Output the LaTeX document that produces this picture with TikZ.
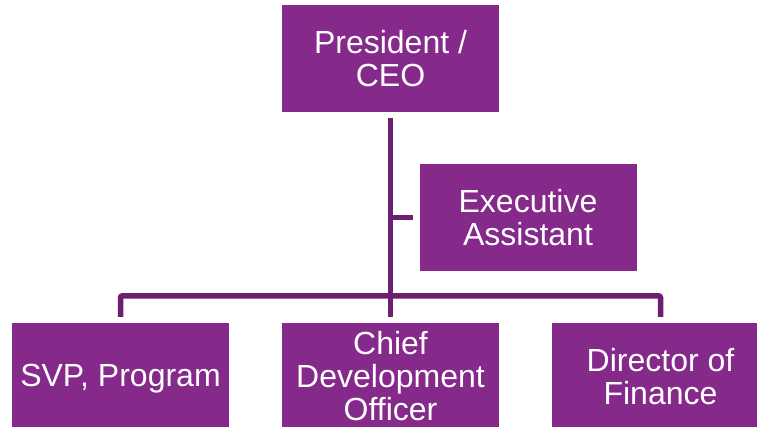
\documentclass[tikz,border=0pt]{standalone}
\usepackage{fontspec}
\setmainfont{Liberation Sans}
\definecolor{boxfill}{HTML}{85298A}
\definecolor{linkcol}{HTML}{6C1E70}
\begin{document}
\begin{tikzpicture}[x=1pt,y=-1pt,
  role/.style={fill=boxfill, draw=none, text=white, inner sep=0pt,
    minimum width=217pt, minimum height=107pt, align=center,
    font=\fontsize{32}{33}\selectfont},
  link/.style={draw=linkcol, line width=5.5pt}]
\useasboundingbox (0,0) rectangle (757,427);
\clip (0,0) rectangle (757,427);

% boxes
\node[role] (ceo) at (390.5,58.5) {President /\\CEO};
\node[role] (ea)  at (528,217.5) {Executive\\Assistant};
\node[role, text depth=2pt] (svp) at (120.5,376.5) {SVP, Program};
\node[role] (cdo) at (390.5,376.5) {Chief\\Development\\Officer};
\node[role] (fin) at (660.5,376.5) {Director of\\Finance};

% reporting lines
\draw[link, shorten <=5.5pt, shorten >=6pt] (ceo.south) -- (ceo.south |- cdo.north);
\draw[link, shorten >=6pt] (ceo.south |- ea.west) -- (ea.west);
\draw[link, rounded corners=2pt, shorten <=6pt, shorten >=6pt]
  (svp.north) -- ++(0,-27) -| (fin.north);
\end{tikzpicture}
\end{document}
